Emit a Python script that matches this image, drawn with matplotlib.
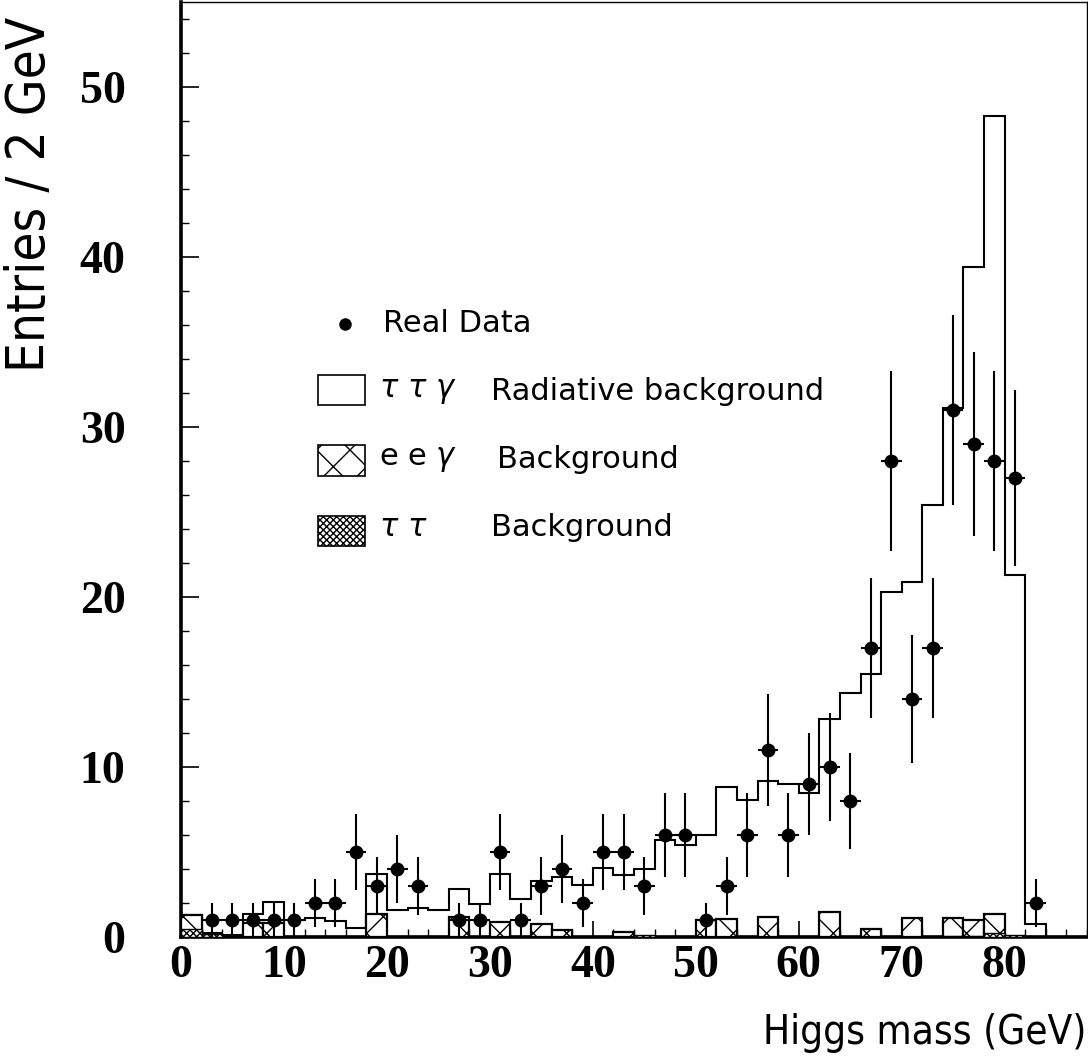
import numpy as np
import matplotlib.pyplot as plt
from matplotlib import font_manager
from matplotlib.patches import Rectangle
from matplotlib.lines import Line2D

# 2 GeV bins from 0 to 88 GeV
edges = np.arange(0, 90, 2)

# tau tau gamma radiative background (open histogram)
rad_bg = [1.3, 0.25, 0.1, 1.33, 2.08, 1.02, 1.12, 0.96, 0.53, 3.73,
          1.6, 1.7, 1.57, 2.8, 1.95, 3.72, 2.25, 3.32, 3.55, 3.03,
          4.03, 3.62, 3.98, 5.7, 5.4, 6.0, 8.8, 8.04, 9.16, 9.0,
          8.47, 12.8, 14.35, 15.5, 20.3, 20.9, 25.4, 31.1, 39.4, 48.3,
          21.3, 0.78, 0.0, 0.0]

# e e gamma background (hatched)
eeg_bg = [1.3, 0, 0, 0.84, 0.84, 0, 0, 0, 0, 1.33,
          0, 0, 0, 1.15, 0, 0.88, 0, 0.78, 0.41, 0,
          0, 0.3, 0, 0, 0, 1.0, 1.04, 0, 1.2, 0,
          0, 1.47, 0, 0.49, 0, 1.1, 0, 1.14, 1.0, 1.33,
          0, 0, 0, 0]

# tau tau background (dense hatch)
tt_bg = [0.5, 0.2, 0, 0, 0, 0, 0, 0, 0, 0,
         0, 0, 0, 0, 0, 0, 0, 0, 0, 0,
         0, 0, 0.1, 0, 0, 0, 0, 0, 0, 0,
         0, 0, 0, 0, 0, 0, 0, 0.08, 0.08, 0.25,
         0.12, 0, 0, 0]

# real data counts per bin
data_n = [0, 1, 1, 1, 1, 1, 2, 2, 5, 3,
          4, 3, 0, 1, 1, 5, 1, 3, 4, 2,
          5, 5, 3, 6, 6, 1, 3, 6, 11, 6,
          9, 10, 8, 17, 28, 14, 17, 31, 29, 28,
          27, 2, 0, 0]

W, H = 1088, 1063


def fx(px):
    return px / W


def fy(py):
    return (H - py) / H


def font_file(name, weight, condensed=False):
    # pick an installed file by hand so the choice does not drift between runs
    hits = []
    for f in font_manager.fontManager.ttflist:
        is_cond = f.stretch in ('condensed', 'semi-condensed') or 'Narrow' in f.name
        if f.name == name and f.weight == weight and f.style == 'normal' \
                and is_cond == condensed:
            hits.append(f.fname)
    if hits:
        return font_manager.FontProperties(fname=sorted(hits)[0])
    return font_manager.FontProperties(family=name, weight=weight)


fig = plt.figure(figsize=(W / 100, H / 100), dpi=100)
ax = fig.add_axes([fx(181), fy(937), (1087 - 181) / W, (937 - 2) / H])

plt.rcParams['hatch.linewidth'] = 1.0

ax.stairs(rad_bg, edges, color='black', lw=1.5, zorder=2)
ax.bar(edges[:-1], eeg_bg, width=2, align='edge', facecolor='white',
       edgecolor='black', hatch='x', lw=1.6, zorder=3)
ax.bar(edges[:-1], tt_bg, width=2, align='edge', facecolor='white',
       edgecolor='black', hatch='xxxxx', lw=1.0, zorder=4)

centers = edges[:-1] + 1
n = np.array(data_n, dtype=float)
keep = n > 0
ax.errorbar(centers[keep], n[keep], yerr=np.sqrt(n[keep]), xerr=1.0,
            fmt='o', color='black', ms=9, elinewidth=1.5, capsize=0,
            zorder=5)

ax.set_xlim(0, 88)
ax.set_ylim(0, 55)
ax.set_xticks(np.arange(0, 81, 10))
ax.set_xticks(np.arange(0, 89, 2), minor=True)
ax.set_yticks(np.arange(0, 51, 10))
ax.set_yticks(np.arange(0, 55, 2), minor=True)

tick_prop = font_file('Liberation Serif', 700)
tick_prop.set_size(33)
ax.set_xticklabels([str(v) for v in range(0, 81, 10)], fontproperties=tick_prop)
ax.set_yticklabels([str(v) for v in range(0, 51, 10)], fontproperties=tick_prop)
ax.tick_params(axis='x', which='major', direction='in', length=11.5,
               width=1.2, pad=6)
ax.tick_params(axis='x', which='minor', direction='in', length=5.8,
               width=1.0)
ax.tick_params(axis='y', which='major', direction='in', length=13,
               width=1.2, pad=40)
ax.tick_params(axis='y', which='minor', direction='in', length=6,
               width=1.0)

for side in ('left', 'bottom'):
    ax.spines[side].set_linewidth(2.6)
for side in ('top', 'right'):
    ax.spines[side].set_linewidth(1.0)

xlabel_prop = font_file('DejaVu Sans', 400, condensed=True)
xlabel_prop.set_size(29)
ylabel_prop = font_file('DejaVu Sans', 400, condensed=True)
ylabel_prop.set_size(38)

fig.text(fx(1086), fy(1033), 'Higgs mass (GeV)', ha='right', va='center',
         fontproperties=xlabel_prop)
fig.text(fx(30), fy(372), 'Entries / 2 GeV', rotation=90, ha='center',
         va='bottom', fontproperties=ylabel_prop)

# hand-made legend
leg_font = {'family': 'DejaVu Sans', 'size': 22}
fig.add_artist(Line2D([fx(345)], [fy(324)], marker='o', ms=8, color='black',
                      transform=fig.transFigure))
fig.text(fx(383), fy(324), 'Real Data', va='center', fontdict=leg_font)

boxes = [(375, 405, None), (445, 476, 'x'), (516, 546, 'xxxxx')]
for top, bot, hatch in boxes:
    fig.add_artist(Rectangle((fx(318), fy(bot)), fx(365) - fx(318),
                             fy(top) - fy(bot), transform=fig.transFigure,
                             facecolor='white', edgecolor='black', lw=1.2,
                             hatch=hatch))

fig.text(fx(379), fy(391), r'$\tau\ \tau\ \gamma$', va='center',
         fontdict=leg_font)
fig.text(fx(491), fy(391), 'Radiative background', va='center',
         fontdict=leg_font)
fig.text(fx(379), fy(460), r'e e $\gamma$', va='center', fontdict=leg_font)
fig.text(fx(497), fy(460), 'Background', va='center', fontdict=leg_font)
fig.text(fx(379), fy(528), r'$\tau\ \tau$', va='center', fontdict=leg_font)
fig.text(fx(491), fy(528), 'Background', va='center', fontdict=leg_font)

fig.savefig('out.png', dpi=100)
